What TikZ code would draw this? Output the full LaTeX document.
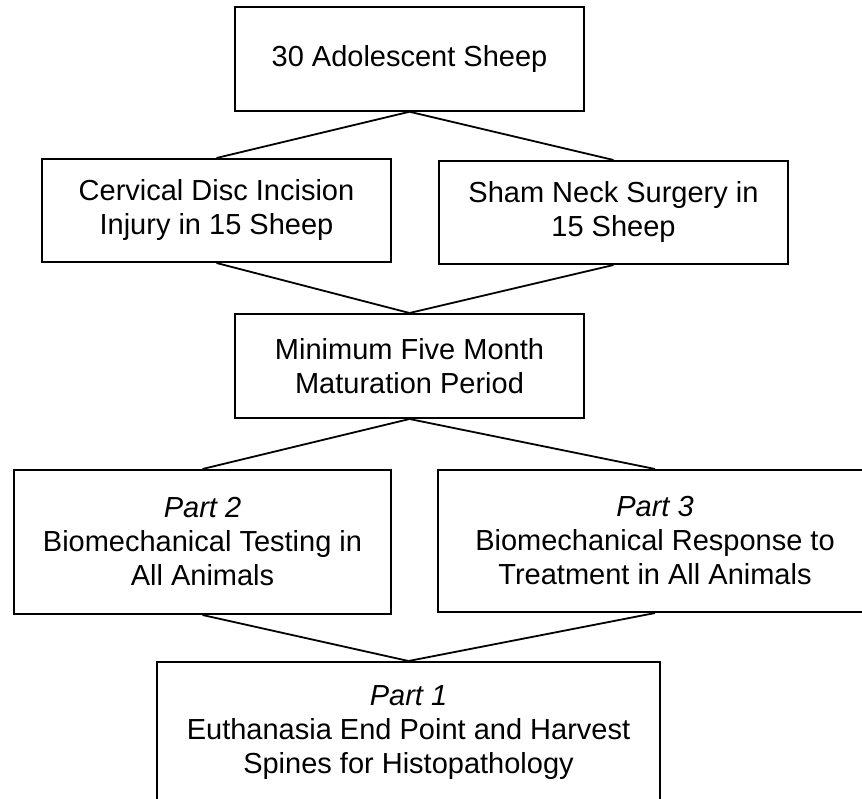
\documentclass[tikz,border=0pt]{standalone}
\usepackage{fontspec}
\setmainfont{Liberation Sans}
\begin{document}
\begin{tikzpicture}[x=1pt,y=1pt,
  box/.style={draw=black, line width=2pt, rectangle, align=center, inner sep=0pt,
    font=\fontsize{29}{34}\selectfont},
  link/.style={draw=black, line width=1.8pt}]
\useasboundingbox (0,0) rectangle (862,-799);
\clip (0,0) rectangle (862,-799);
\node[box, minimum width=349pt, minimum height=103.5pt] (top) at (409.5,-59) {30 Adolescent Sheep};
\node[box, minimum width=349pt, minimum height=103pt] (cerv) at (216.5,-210.5) {Cervical Disc Incision\\Injury in 15 Sheep};
\node[box, minimum width=349pt, minimum height=103pt] (sham) at (613.5,-212.5) {Sham Neck Surgery in\\15 Sheep};
\node[box, minimum width=349pt, minimum height=104pt] (min) at (409.5,-366) {Minimum Five Month\\Maturation Period};
\node[box, minimum width=377pt, minimum height=144pt] (p2) at (202.5,-542) {\textit{Part 2}\\Biomechanical Testing in\\All Animals};
\node[box, minimum width=434pt, minimum height=142pt] (p3) at (655,-541) {\textit{Part 3}\\Biomechanical Response to\\Treatment in All Animals};
\node[box, minimum width=503pt, minimum height=142pt] (p1) at (408.5,-733) {\textit{Part 1}\\Euthanasia End Point and Harvest\\Spines for Histopathology};
\draw[link] (top.south) -- (cerv.north);
\draw[link] (top.south) -- (sham.north);
\draw[link] (cerv.south) -- (min.north);
\draw[link] (sham.south) -- (min.north);
\draw[link] (min.south) -- (p2.north);
\draw[link] (min.south) -- (p3.north);
\draw[link] (p2.south) -- (p1.north);
\draw[link] (p3.south) -- (p1.north);
\end{tikzpicture}
\end{document}
